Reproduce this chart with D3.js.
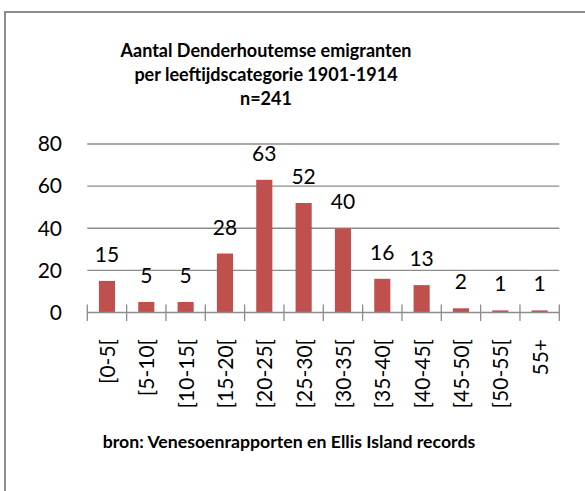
<!DOCTYPE html>
<html><head><meta charset="utf-8">
<script src="https://cdn.jsdelivr.net/npm/d3@7"></script>
<style>body{margin:0;background:#fff}svg{display:block}</style>
</head><body>
<svg id="c" width="585" height="491"></svg>
<script>
const categories = ["[0-5[","[5-10[","[10-15[","[15-20[","[20-25[","[25-30[","[30-35[","[35-40[","[40-45[","[45-50[","[50-55[","55+"];
const values = [15,5,5,28,63,52,40,16,13,2,1,1];
const yTicks = [0,20,40,60,80];
const titleLines = ["Aantal Denderhoutemse emigranten","per leeftijdscategorie 1901-1914","n=241"];
const sourceText = "bron: Venesoenrapporten en Ellis Island records";

const svg = d3.select("#c");
const font = "Lato, 'Open Sans', sans-serif";
// outer frame
svg.append("rect").attr("x",5).attr("y",12).attr("width",600).attr("height",500)
  .attr("fill","#fff").attr("stroke","#8c8c8c").attr("stroke-width",2);

const m = {l:87.3, r:559.3, t:144, b:312.5};
const x = d3.scaleBand().domain(categories).range([m.l,m.r]).paddingInner(0.59).paddingOuter(0.295);
const xb = d3.scaleBand().domain(categories).range([m.l,m.r]);
const y = d3.scaleLinear().domain([0,80]).range([m.b,m.t]);

// gridlines
svg.append("g").selectAll("line").data(yTicks.filter(d=>d>0)).join("line")
  .attr("x1",m.l).attr("x2",m.r).attr("y1",d=>y(d)).attr("y2",d=>y(d))
  .attr("stroke","#8c8c8c").attr("stroke-width",1.3);

// y labels
svg.append("g").selectAll("text").data(yTicks).join("text")
  .attr("x",62).attr("y",d=>y(d)).attr("dy","0.35em").attr("text-anchor","end")
  .attr("font-family",font).attr("font-size",21).attr("fill","#000").text(d=>d);

// bars
svg.append("g").selectAll("rect").data(values).join("rect")
  .attr("x",(d,i)=>x(categories[i])).attr("width",x.bandwidth())
  .attr("y",d=>y(d)).attr("height",d=>y(0)-y(d)).attr("fill","#c0504d");

// x axis line & cross ticks
svg.append("line").attr("x1",m.l).attr("x2",m.r).attr("y1",y(0)).attr("y2",y(0))
  .attr("stroke","#8c8c8c").attr("stroke-width",1.3);
const tickPos = categories.map(c=>xb(c)).concat([m.r]);
svg.append("g").selectAll("line").data(tickPos).join("line")
  .attr("x1",d=>d).attr("x2",d=>d).attr("y1",y(0)-8).attr("y2",y(0)+8.5)
  .attr("stroke","#8c8c8c").attr("stroke-width",1.3);

// data labels
svg.append("g").selectAll("text").data(values).join("text")
  .attr("x",(d,i)=>x(categories[i])+x.bandwidth()/2).attr("y",d=>y(d)-19)
  .attr("text-anchor","middle").attr("font-family",font).attr("font-size",21).attr("fill","#000").text(d=>d);

// x labels rotated
svg.append("g").selectAll("text").data(categories).join("text")
  .attr("transform",c=>`translate(${xb(c)+xb.bandwidth()/2+8},339) rotate(-90)`)
  .attr("text-anchor","end").attr("font-family",font).attr("font-size",21).attr("fill","#000").text(c=>c);

// title
svg.append("g").selectAll("text").data(titleLines).join("text")
  .attr("x",266).attr("y",(d,i)=>57+i*23.8).attr("text-anchor","middle")
  .attr("font-family",font).attr("font-weight","bold").attr("font-size",18).attr("fill","#000").text(d=>d);

svg.append("text").attr("x",289).attr("y",447.7).attr("text-anchor","middle")
  .attr("font-family",font).attr("font-weight","bold").attr("font-size",17.7).attr("fill","#000").text(sourceText);
</script>
</body></html>
